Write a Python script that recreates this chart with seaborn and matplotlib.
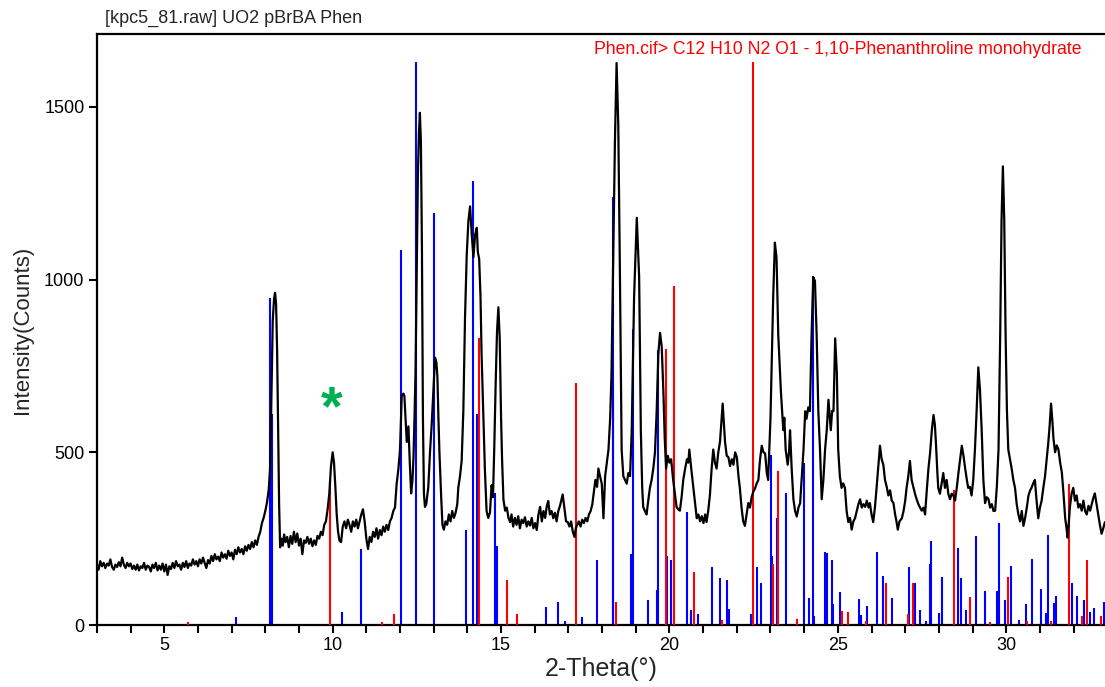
import numpy as np
import pandas as pd
import matplotlib
matplotlib.use("Agg")
import matplotlib.pyplot as plt
import seaborn as sns
from matplotlib.ticker import MultipleLocator, FuncFormatter

# ---------------- data ----------------
two_theta = [
    3.00, 3.05, 3.10, 3.15, 3.20, 3.25, 3.30, 3.35, 3.40, 3.45, 3.50, 3.55, 3.60, 3.65, 3.70, 3.75, 3.80, 3.85, 3.90, 3.95,
    4.00, 4.05, 4.10, 4.15, 4.20, 4.25, 4.30, 4.35, 4.40, 4.45, 4.50, 4.55, 4.60, 4.65, 4.70, 4.75, 4.80, 4.85, 4.90, 4.95,
    5.00, 5.05, 5.10, 5.15, 5.20, 5.25, 5.30, 5.35, 5.40, 5.45, 5.50, 5.55, 5.60, 5.65, 5.70, 5.75, 5.80, 5.85, 5.90, 5.95,
    6.00, 6.05, 6.10, 6.15, 6.20, 6.25, 6.30, 6.35, 6.40, 6.45, 6.50, 6.55, 6.60, 6.65, 6.70, 6.75, 6.80, 6.85, 6.90, 6.95,
    7.00, 7.05, 7.10, 7.15, 7.20, 7.25, 7.30, 7.35, 7.40, 7.45, 7.50, 7.55, 7.60, 7.65, 7.70, 7.75, 7.80, 7.85, 7.90, 7.95,
    8.00, 8.05, 8.10, 8.14, 8.18, 8.22, 8.26, 8.29, 8.32, 8.35, 8.38, 8.41, 8.44,
    8.48, 8.52, 8.56, 8.60, 8.65, 8.70, 8.75, 8.80, 8.85, 8.90, 8.95, 9.00, 9.05, 9.10, 9.15, 9.20, 9.25, 9.30, 9.35, 9.40,
    9.45, 9.50, 9.55, 9.60, 9.65, 9.70, 9.75, 9.80, 9.85, 9.90, 9.95, 10.00, 10.04, 10.08, 10.12, 10.16, 10.20, 10.25, 10.30,
    10.35, 10.40, 10.45, 10.50, 10.55, 10.60, 10.65, 10.70, 10.75, 10.80, 10.85, 10.90, 10.95, 11.00, 11.05, 11.10, 11.15,
    11.20, 11.25, 11.30, 11.35, 11.40, 11.45, 11.50, 11.55, 11.60, 11.65, 11.70, 11.75, 11.80, 11.85,
    11.90, 11.95, 12.00, 12.05, 12.10, 12.13, 12.17, 12.20, 12.25, 12.29, 12.33, 12.37, 12.40, 12.43, 12.46, 12.50, 12.53,
    12.56, 12.59, 12.62, 12.65, 12.68, 12.71, 12.74, 12.78, 12.84, 12.89, 12.94, 12.99, 13.04, 13.08, 13.11, 13.14, 13.17,
    13.22, 13.26, 13.30, 13.35, 13.40, 13.45, 13.50, 13.55, 13.60, 13.65, 13.70, 13.73, 13.78, 13.83, 13.88, 13.93, 13.98,
    14.03, 14.08, 14.13, 14.18, 14.23, 14.28, 14.31, 14.35, 14.39, 14.42, 14.47, 14.52, 14.57, 14.62, 14.67, 14.72, 14.76,
    14.80, 14.84, 14.88, 14.92, 14.96, 15.00, 15.03, 15.07, 15.12, 15.17, 15.22, 15.27, 15.31, 15.36, 15.41, 15.46, 15.51,
    15.56, 15.61, 15.66, 15.71, 15.76, 15.81, 15.86, 15.91, 15.96, 16.01, 16.06, 16.11, 16.16, 16.21, 16.26, 16.31, 16.36,
    16.40, 16.45, 16.50, 16.55, 16.60, 16.65, 16.70, 16.75, 16.80, 16.83, 16.88, 16.93, 16.98, 17.03, 17.08, 17.13, 17.18,
    17.22, 17.26, 17.31, 17.36, 17.41, 17.46, 17.51, 17.56, 17.61, 17.66, 17.71, 17.76, 17.80, 17.85, 17.89, 17.94, 17.99,
    18.04, 18.09, 18.14, 18.19, 18.24, 18.28, 18.33, 18.38, 18.43, 18.48, 18.53, 18.58, 18.63, 18.68, 18.73, 18.78, 18.83,
    18.88, 18.95, 19.03, 19.10, 19.15, 19.19, 19.22, 19.27, 19.32, 19.37, 19.42, 19.47, 19.52, 19.57, 19.62, 19.67, 19.72,
    19.77, 19.82, 19.86, 19.90, 19.95, 20.00, 20.05, 20.11, 20.16, 20.21, 20.26, 20.31, 20.36, 20.41, 20.46, 20.52, 20.56,
    20.59, 20.65, 20.71, 20.76, 20.81, 20.86, 20.91, 20.96, 21.01, 21.06, 21.10, 21.15, 21.20, 21.25, 21.30, 21.35, 21.40,
    21.45, 21.50, 21.55, 21.58, 21.62, 21.65, 21.70, 21.75, 21.80, 21.85, 21.90, 21.95, 22.00, 22.05, 22.09, 22.14, 22.19,
    22.24, 22.29, 22.34, 22.39, 22.44, 22.49, 22.54, 22.59, 22.64, 22.69, 22.74, 22.79, 22.84, 22.89, 22.93, 22.96, 23.00,
    23.03, 23.08, 23.13, 23.18, 23.23, 23.27, 23.31, 23.38, 23.41, 23.45, 23.51, 23.55, 23.58, 23.63, 23.68, 23.73, 23.78,
    23.83, 23.88, 23.93, 23.98, 24.03, 24.07, 24.12, 24.17, 24.22, 24.27, 24.32, 24.37, 24.42, 24.47, 24.52, 24.57, 24.62,
    24.67, 24.72, 24.76, 24.79, 24.83, 24.87, 24.92, 24.97, 25.01, 25.06, 25.11, 25.16, 25.21, 25.26, 25.31, 25.36, 25.41,
    25.46, 25.51, 25.56, 25.61, 25.66, 25.71, 25.76, 25.81, 25.86, 25.91, 25.95, 26.00, 26.05, 26.10, 26.15, 26.20, 26.25,
    26.30, 26.35, 26.40, 26.45, 26.50, 26.55, 26.60, 26.65, 26.70, 26.74, 26.78, 26.83, 26.90, 26.95, 27.00, 27.04, 27.09,
    27.14, 27.19, 27.24, 27.29, 27.34, 27.39, 27.44, 27.49, 27.54, 27.59, 27.64, 27.69, 27.74, 27.79, 27.84, 27.88, 27.91,
    27.95, 27.98, 28.03, 28.08, 28.13, 28.18, 28.23, 28.28, 28.33, 28.38, 28.43, 28.48, 28.53, 28.58, 28.63, 28.68, 28.73,
    28.78, 28.83, 28.87, 28.92, 28.97, 29.02, 29.07, 29.12, 29.17, 29.22, 29.27, 29.32, 29.37, 29.42, 29.47, 29.52, 29.57,
    29.62, 29.67, 29.72, 29.77, 29.82, 29.86, 29.90, 29.94, 29.98, 30.02, 30.06, 30.11, 30.16, 30.21, 30.26, 30.31, 30.36,
    30.41, 30.46, 30.51, 30.56, 30.61, 30.66, 30.71, 30.75, 30.80, 30.85, 30.90, 30.95, 31.00, 31.05, 31.10, 31.15, 31.20,
    31.25, 31.29, 31.33, 31.37, 31.40, 31.45, 31.50, 31.55, 31.60, 31.65, 31.70, 31.75, 31.79, 31.82, 31.86, 31.89, 31.94,
    31.99, 32.04, 32.09, 32.14, 32.19, 32.24, 32.29, 32.34, 32.39, 32.44, 32.49, 32.54, 32.59, 32.63, 32.68, 32.73, 32.78,
    32.83, 32.88, 32.93,
]
counts = [
    175, 160, 185, 170, 180, 165, 178, 172, 190, 168, 160, 175, 168, 182, 170, 195, 175, 165, 180, 170,
    178, 162, 172, 160, 175, 158, 170, 165, 180, 160, 172, 168, 155, 175, 165, 180, 158, 172, 160, 178,
    155, 175, 145, 170, 162, 180, 165, 185, 170, 175, 160, 180, 168, 185, 165, 178, 172, 190, 175, 185,
    170, 190, 178, 195, 180, 165, 188, 178, 200, 185, 205, 190, 198, 185, 210, 195, 205, 192, 215, 200,
    210, 190, 218, 205, 225, 210, 220, 205, 228, 215, 232, 220, 240, 225, 245, 232, 255, 270, 295, 310,
    330, 355, 390, 450, 650, 880, 945, 962, 930, 800, 580, 350, 225,
    250, 230, 262, 240, 255, 225, 258, 235, 270, 240, 265, 230, 250, 205, 245, 238, 255, 235, 250, 228,
    245, 232, 258, 250, 270, 260, 290, 300, 335, 380, 460, 500, 470, 400, 320, 270, 245, 240, 285,
    300, 280, 305, 290, 270, 300, 285, 305, 280, 300, 320, 335, 300, 250, 220, 255, 240,
    270, 255, 280, 250, 275, 260, 285, 270, 290, 275, 300, 310, 330, 340,
    409, 450, 508, 663, 670, 663, 590, 530, 575, 470, 381, 420, 486, 600, 730, 1050, 1300,
    1420, 1483, 1400, 1100, 600, 380, 342, 350, 400, 500, 580, 680, 774, 760, 720, 600, 500,
    375, 290, 276, 300, 290, 320, 300, 330, 310, 325, 350, 397, 430, 475, 620, 890, 1070,
    1170, 1212, 1130, 1065, 1130, 1150, 1080, 1060, 950, 790, 620, 450, 330, 310, 325, 405, 370,
    520, 700, 850, 920, 830, 600, 480, 364, 331, 340, 310, 298, 320, 285, 310, 290, 315,
    280, 305, 295, 312, 285, 300, 288, 310, 280, 295, 275, 320, 342, 300, 330, 310, 345,
    359, 320, 330, 309, 325, 300, 330, 345, 365, 378, 340, 300, 298, 285, 300, 270, 255,
    280, 290, 300, 285, 305, 295, 310, 300, 320, 330, 350, 390, 420, 400, 453, 430, 409,
    309, 431, 470, 508, 600, 730, 1062, 1395, 1627, 1450, 1007, 508, 431, 420, 409, 440, 431,
    564, 951, 1179, 1007, 564, 400, 342, 330, 320, 360, 397, 420, 453, 500, 619, 785, 846,
    807, 674, 540, 453, 490, 470, 480, 420, 380, 342, 335, 331, 370, 420, 450, 480, 470,
    508, 450, 397, 350, 309, 320, 300, 315, 295, 320, 298, 330, 375, 450, 508, 470, 453,
    500, 530, 600, 641, 580, 530, 490, 486, 460, 480, 464, 500, 486, 430, 397, 340, 300,
    287, 320, 353, 340, 370, 386, 395, 410, 420, 480, 519, 500, 497, 440, 420, 500, 600,
    730, 951, 1107, 1062, 841, 760, 674, 564, 600, 508, 464, 500, 564, 450, 364, 330, 314,
    340, 353, 430, 508, 619, 597, 630, 619, 841, 1007, 996, 841, 619, 508, 364, 420, 508,
    564, 652, 600, 564, 620, 619, 830, 730, 508, 430, 397, 410, 397, 330, 298, 310, 276,
    300, 309, 330, 350, 364, 340, 350, 342, 360, 340, 353, 320, 298, 340, 397, 460, 519,
    480, 464, 420, 400, 375, 390, 360, 353, 320, 300, 276, 300, 309, 330, 360, 397, 430,
    475, 420, 400, 380, 364, 350, 340, 331, 340, 320, 390, 453, 500, 564, 608, 580, 530,
    450, 397, 380, 409, 440, 397, 420, 380, 364, 380, 375, 360, 397, 440, 480, 519, 490,
    453, 420, 397, 400, 375, 420, 508, 620, 746, 680, 564, 420, 353, 370, 365, 340, 350,
    330, 331, 400, 508, 841, 1173, 1328, 1173, 841, 620, 508, 480, 453, 420, 397, 350, 320,
    300, 330, 287, 310, 340, 375, 390, 397, 410, 420, 360, 309, 340, 360, 397, 430, 480,
    530, 580, 641, 590, 541, 500, 520, 508, 470, 442, 380, 309, 280, 253, 300, 342, 380,
    397, 360, 375, 340, 350, 331, 360, 330, 320, 345, 331, 350, 370, 381, 350, 320, 290,
    264, 280, 298,
]

blue_pos = [7.12, 8.14, 8.20, 10.27, 10.83, 12.02, 12.475, 13.01, 13.96, 14.18, 14.28, 14.81, 14.87, 15.46,
            16.34, 16.68, 16.90, 17.41, 17.86, 18.31, 18.32, 18.86, 18.93, 19.37, 19.63, 19.66, 19.93, 20.04,
            20.52, 20.63, 20.86, 21.26, 21.50, 21.71, 21.77, 22.42, 22.60, 22.71, 23.02, 23.05, 23.18, 23.45,
            23.98, 24.15, 24.25, 24.30, 24.62, 24.67, 24.82, 24.85, 25.05, 25.64, 25.69, 25.87, 26.17, 26.33,
            26.61, 27.12, 27.29, 27.43, 27.63, 27.73, 27.78, 28.01, 28.10, 28.58, 28.66, 28.80, 29.09, 29.38,
            29.73, 29.79, 29.96, 30.14, 30.38, 30.59, 30.75, 31.03, 31.17, 31.24, 31.41, 31.48, 31.94, 32.09,
            32.30, 32.49, 32.61, 32.90]
blue_int = [23, 946, 610, 37, 220, 1087, 1630, 1193, 276, 1286, 610, 383, 228, 15,
            52, 67, 12, 23, 189, 697, 1239, 206, 857, 73, 101, 796, 200, 187,
            328, 43, 32, 167, 136, 130, 45, 32, 167, 123, 492, 200, 311, 381,
            469, 78, 1009, 26, 211, 209, 189, 60, 95, 76, 30, 56, 211, 143,
            78, 167, 123, 43, 12, 178, 242, 34, 140, 222, 137, 43, 259, 98,
            98, 294, 73, 170, 15, 60, 192, 104, 34, 261, 65, 84, 123, 84,
            73, 37, 48, 67]

red_pos = [5.71, 9.92, 11.46, 11.83, 14.35, 15.18, 15.46, 17.22, 18.40, 19.90, 20.13, 20.73, 21.57, 22.48,
           23.08, 23.21, 23.78, 25.11, 25.29, 25.83, 26.42, 27.09, 27.22, 28.45, 28.91, 29.52, 30.04, 30.63,
           31.33, 31.86, 32.24, 32.39, 32.80]
red_int = [10, 414, 8, 32, 832, 129, 32, 701, 67, 798, 982, 154, 15, 1630,
           178, 447, 17, 41, 37, 12, 123, 32, 123, 392, 82, 10, 139, 12,
           12, 409, 26, 187, 26]

x_major = [5, 10, 15, 20, 25, 30]
y_ticks = [0, 500, 1000, 1500]

title_text = "[kpc5_81.raw] UO2 pBrBA Phen"
ref_text = "Phen.cif> C12 H10 N2 O1 - 1,10-Phenanthroline monohydrate"
star_pos = (9.97, 622)

# ---------------- figure ----------------
sns.set_style("ticks")
plt.rcParams["font.family"] = ["Liberation Sans", "DejaVu Sans"]

W, H = 1105, 687
fig = plt.figure(figsize=(W / 100, H / 100), dpi=100)
left, right, top, bottom = 96.9, 1105.0, 34.3, 625.0
ax = fig.add_axes([left / W, 1 - bottom / H, (right - left) / W, (bottom - top) / H])

df = pd.DataFrame({"2-Theta": two_theta, "Counts": counts})

ax.vlines(blue_pos, 0, blue_int, color="#0000ff", lw=1.5, zorder=2)
ax.vlines(red_pos, 0, red_int, color="#ff0000", lw=1.5, zorder=3)
sns.lineplot(data=df, x="2-Theta", y="Counts", ax=ax, color="black", lw=1.6, zorder=4)

ax.set_xlim(3, 3 + (right - left) / 33.68)
ax.set_ylim(0, (bottom - top) / 0.3454)

ax.xaxis.set_major_locator(MultipleLocator(1))
ax.xaxis.set_major_formatter(FuncFormatter(lambda v, p: f"{int(round(v))}" if int(round(v)) in x_major else ""))
ax.set_yticks(y_ticks)
ax.tick_params(axis="both", direction="out", length=6, width=1.5, colors="black", labelsize=13, pad=3)

for s in ["left", "bottom", "top"]:
    ax.spines[s].set_visible(True)
    ax.spines[s].set_linewidth(1.6)
    ax.spines[s].set_color("black")
ax.spines["right"].set_visible(False)

ax.set_xlabel("2-Theta(°)", fontsize=18, labelpad=2)
ax.set_ylabel("Intensity(Counts)", fontsize=16, labelpad=8)

fig.text(105 / W, 1 - 18 / H, title_text, fontsize=13, va="center", ha="left")
fig.text(1082 / W, 1 - 50 / H, ref_text, fontsize=12.7, va="center", ha="right", color="#ff0000")
ax.text(star_pos[0], star_pos[1], "*", fontsize=40, fontweight="bold", color="#00b050",
        ha="center", va="center")

fig.savefig("out.png", dpi=100)
